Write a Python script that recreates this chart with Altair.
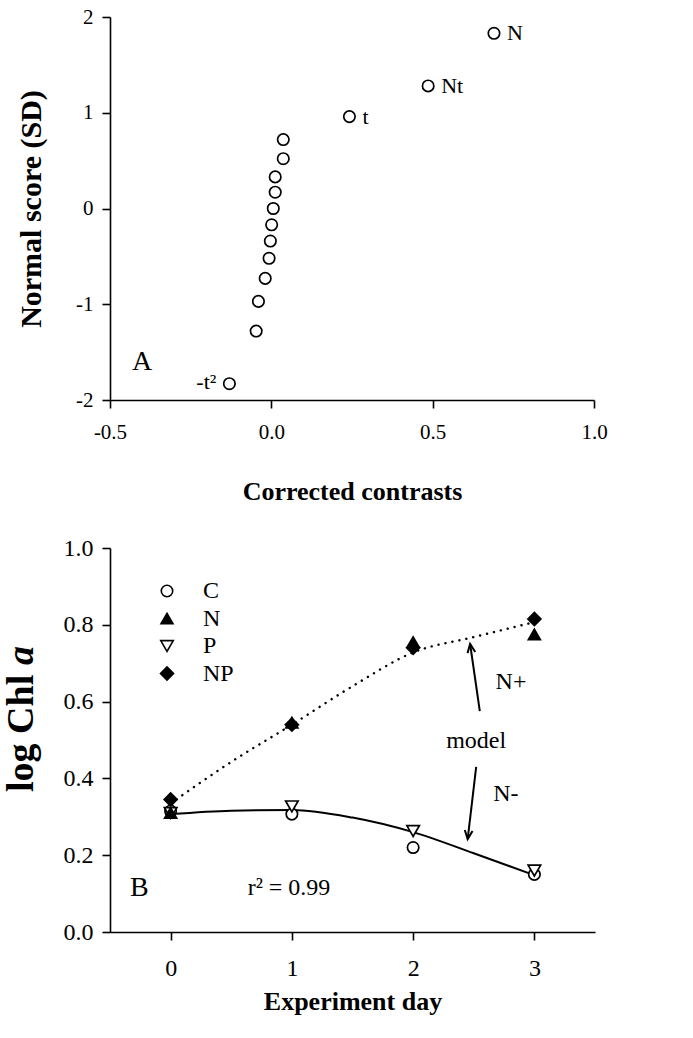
import altair as alt
import pandas as pd

FONT = "Liberation Serif"

# ---------------- Panel A data ----------------
contrast_x = [0.69, 0.486, 0.242, 0.037, 0.037, 0.012, 0.012, 0.006, 0.001,
              -0.003, -0.007, -0.019, -0.040, -0.047, -0.130]
normal_score = [1.83, 1.28, 0.96, 0.72, 0.52, 0.33, 0.17, 0.0, -0.17,
                -0.34, -0.52, -0.73, -0.97, -1.28, -1.83]
lab_text = ["N", "Nt", "t"]
lab_x = [0.69, 0.486, 0.242]
lab_y = [1.83, 1.28, 0.96]
left_lab_text = ["-t\u00b2"]
left_lab_x = [-0.130]
left_lab_y = [-1.83]

# ---------------- Panel B data ----------------
days = [0, 1, 2, 3]
treatments = ["C", "N", "P", "NP"]
chl_C = [0.315, 0.307, 0.22, 0.15]
chl_N = [0.31, 0.545, 0.755, 0.775]
chl_P = [0.31, 0.327, 0.263, 0.16]
chl_NP = [0.345, 0.54, 0.74, 0.815]
model_days = [0, 0.5, 1, 1.5, 2, 2.5, 3]
model_nplus = [0.335, 0.443, 0.54, 0.64, 0.728, 0.768, 0.807]
model_nminus = [0.307, 0.316, 0.318, 0.298, 0.26, 0.205, 0.148]
# arrows: tail -> tip (data coords)
arrow_x1 = [2.55, 2.52]
arrow_y1 = [0.575, 0.43]
arrow_x2 = [2.47, 2.45]
arrow_y2 = [0.75, 0.242]
arrow_angle = [351.5, 186.3]
note_text = ["N+", "N-"]
note_x = [2.68, 2.66]
note_y = [0.651, 0.36]
model_label = ["model"]
model_label_x = [2.52]
model_label_y = [0.497]

# ---------------- Panel A ----------------
hy = "replace(replace(format(datum.value, '{f}'), '\u2212', '-'), '\u2013', '-')"
xa = alt.Scale(domain=[-0.5, 1.0], nice=False, zero=False)
ya = alt.Scale(domain=[-2, 2], nice=False, zero=False)
top_df = pd.DataFrame({"x": contrast_x, "y": normal_score})

ptsA = alt.Chart(top_df).mark_point(
    shape="circle", filled=False, color="black", strokeWidth=1.7, size=130, opacity=1
).encode(
    x=alt.X("x:Q", scale=xa, axis=alt.Axis(
        values=[-0.5, 0, 0.5, 1.0], labelExpr=hy.format(f=".1f"),
        title="Corrected contrasts", labelPadding=13, titlePadding=36,
        labelFontSize=21, labelFlush=False)),
    y=alt.Y("y:Q", scale=ya, axis=alt.Axis(
        values=[-2, -1, 0, 1, 2], labelExpr=hy.format(f="d"),
        title="Normal score (SD)", labelPadding=9, titlePadding=29,
        labelFontSize=21, titleFontSize=30, labelFlush=False)),
)
labsA = alt.Chart(pd.DataFrame({"x": lab_x, "y": lab_y, "t": lab_text})).mark_text(
    align="left", baseline="middle", dx=13, fontSize=22, font=FONT, color="black"
).encode(x=alt.X("x:Q", scale=xa), y=alt.Y("y:Q", scale=ya), text="t:N")
labsA2 = alt.Chart(pd.DataFrame({"x": left_lab_x, "y": left_lab_y, "t": left_lab_text})).mark_text(
    align="right", baseline="middle", dx=-13, dy=-2, fontSize=22, font=FONT, color="black"
).encode(x=alt.X("x:Q", scale=xa), y=alt.Y("y:Q", scale=ya), text="t:N")
letterA = alt.Chart(pd.DataFrame({"t": ["A"]})).mark_text(
    align="left", baseline="middle", fontSize=28, font=FONT, color="black"
).encode(x=alt.value(22), y=alt.value(345), text="t:N")

top = alt.layer(ptsA, labsA, labsA2, letterA).properties(width=484, height=383)

# ---------------- Panel B ----------------
xb = alt.Scale(domain=[-0.5, 3.5], nice=False, zero=False)
yb = alt.Scale(domain=[0, 1.0], nice=False, zero=False)

rows = []
for name, vals in zip(treatments, [chl_C, chl_N, chl_P, chl_NP]):
    for d, v in zip(days, vals):
        rows.append({"day": d, "chl": v, "trt": name})
pts_df = pd.DataFrame(rows)

model_df = pd.DataFrame({"day": model_days * 2,
                         "chl": model_nplus + model_nminus,
                         "m": ["N+"] * len(model_days) + ["N-"] * len(model_days)})

xB = alt.X("day:Q", scale=xb, axis=alt.Axis(
    values=[0, 1, 2, 3], format="d", title="Experiment day",
    labelPadding=16, titlePadding=8, labelFontSize=24, labelFlush=False))
yB = alt.Y("chl:Q", scale=yb, axis=alt.Axis(
    values=[0, 0.2, 0.4, 0.6, 0.8, 1.0], format=".1f", title=None,
    labelPadding=9, labelFontSize=24, labelFlush=False))

lineP = alt.Chart(model_df[model_df.m == "N+"]).mark_line(
    color="black", strokeWidth=2.4, strokeDash=[0.1, 7], strokeCap="round",
    interpolate="monotone").encode(x=xB, y=yB)
lineM = alt.Chart(model_df[model_df.m == "N-"]).mark_line(
    color="black", strokeWidth=2, interpolate="monotone").encode(
    x=alt.X("day:Q", scale=xb), y=alt.Y("chl:Q", scale=yb))

def leg():
    return alt.Legend(title=None, orient="none", legendX=45, legendY=562,
                      labelFontSize=24, labelFont=FONT, rowPadding=3.5,
                      labelOffset=24, symbolStrokeWidth=1.6,
                      symbolStrokeColor="black", labelColor="black")

ptsB = alt.Chart(pts_df).mark_point(
    strokeWidth=1.7, opacity=1, fillOpacity=1
).encode(
    x=alt.X("day:Q", scale=xb), y=alt.Y("chl:Q", scale=yb),
    shape=alt.Shape("trt:N", scale=alt.Scale(
        domain=treatments,
        range=["circle", "triangle-up", "triangle-down", "diamond"]), legend=leg()),
    fill=alt.Fill("trt:N", scale=alt.Scale(
        domain=treatments, range=["white", "black", "white", "black"]), legend=leg()),
    stroke=alt.Stroke("trt:N", scale=alt.Scale(
        domain=treatments, range=["black", "black", "black", "black"]), legend=leg()),
    size=alt.Size("trt:N", scale=alt.Scale(
        domain=treatments, range=[130, 170, 170, 200]), legend=leg()),
    order=alt.Order("ord:Q"),
).transform_calculate(
    ord="datum.trt == 'NP' ? 4 : datum.trt == 'N' ? 3 : datum.trt == 'P' ? 2 : 1"
)

arr_df = pd.DataFrame({"x1": arrow_x1, "y1": arrow_y1, "x2": arrow_x2,
                       "y2": arrow_y2, "ang": arrow_angle})
shafts = alt.Chart(arr_df).mark_rule(color="black", strokeWidth=2).encode(
    x=alt.X("x1:Q", scale=xb), y=alt.Y("y1:Q", scale=yb),
    x2="x2:Q", y2="y2:Q")
heads = alt.Chart(arr_df).mark_point(
    shape="M -0.45 1 L 0 0 L 0.45 1", filled=False, stroke="black",
    strokeWidth=2, size=300, opacity=1
).encode(x=alt.X("x2:Q", scale=xb), y=alt.Y("y2:Q", scale=yb),
         angle=alt.Angle("ang:Q", scale=None))

notes = alt.Chart(pd.DataFrame({"x": note_x, "y": note_y, "t": note_text})).mark_text(
    align="left", baseline="middle", fontSize=24, font=FONT, color="black"
).encode(x=alt.X("x:Q", scale=xb), y=alt.Y("y:Q", scale=yb), text="t:N")
model_note = alt.Chart(pd.DataFrame({"x": model_label_x, "y": model_label_y,
                                     "t": model_label})).mark_text(
    align="center", baseline="middle", fontSize=24, font=FONT, color="black"
).encode(x=alt.X("x:Q", scale=xb), y=alt.Y("y:Q", scale=yb), text="t:N")

r2 = alt.Chart(pd.DataFrame({"t": ["r\u00b2 = 0.99"]})).mark_text(
    align="center", baseline="middle", fontSize=24, font=FONT, color="black"
).encode(x=alt.value(179), y=alt.value(340), text="t:N")
letterB = alt.Chart(pd.DataFrame({"t": ["B"]})).mark_text(
    align="left", baseline="middle", fontSize=28, font=FONT, color="black"
).encode(x=alt.value(20), y=alt.value(340), text="t:N")

ytitle1 = alt.Chart(pd.DataFrame({"t": ["log Chl"]})).mark_text(
    align="left", baseline="middle", angle=270, fontSize=38, font=FONT,
    fontWeight="bold", color="black"
).encode(x=alt.value(-88), y=alt.value(244), text="t:N")
ytitle2 = alt.Chart(pd.DataFrame({"t": ["a"]})).mark_text(
    align="left", baseline="middle", angle=270, fontSize=38, font=FONT,
    fontWeight="bold", fontStyle="italic", color="black"
).encode(x=alt.value(-88), y=alt.value(117), text="t:N")

bottom = alt.layer(lineP, lineM, ptsB, shafts, heads, notes, model_note, r2,
                   letterB, ytitle1, ytitle2).properties(width=485, height=384)

chart = alt.vconcat(top, bottom, spacing=32).properties(
    padding={"left": 3, "top": 6, "right": 5, "bottom": 5}
).configure(font=FONT).configure_view(stroke=None).configure_axis(
    grid=False, domainColor="black", domainWidth=1.6, tickColor="black",
    tickWidth=1.6, tickSize=8, labelColor="black", titleColor="black",
    labelFont=FONT, titleFont=FONT, titleFontSize=26, titleFontWeight="bold"
).configure_legend(labelFont=FONT)

chart.save("out.html", embed_options={"renderer": "svg", "actions": False})
